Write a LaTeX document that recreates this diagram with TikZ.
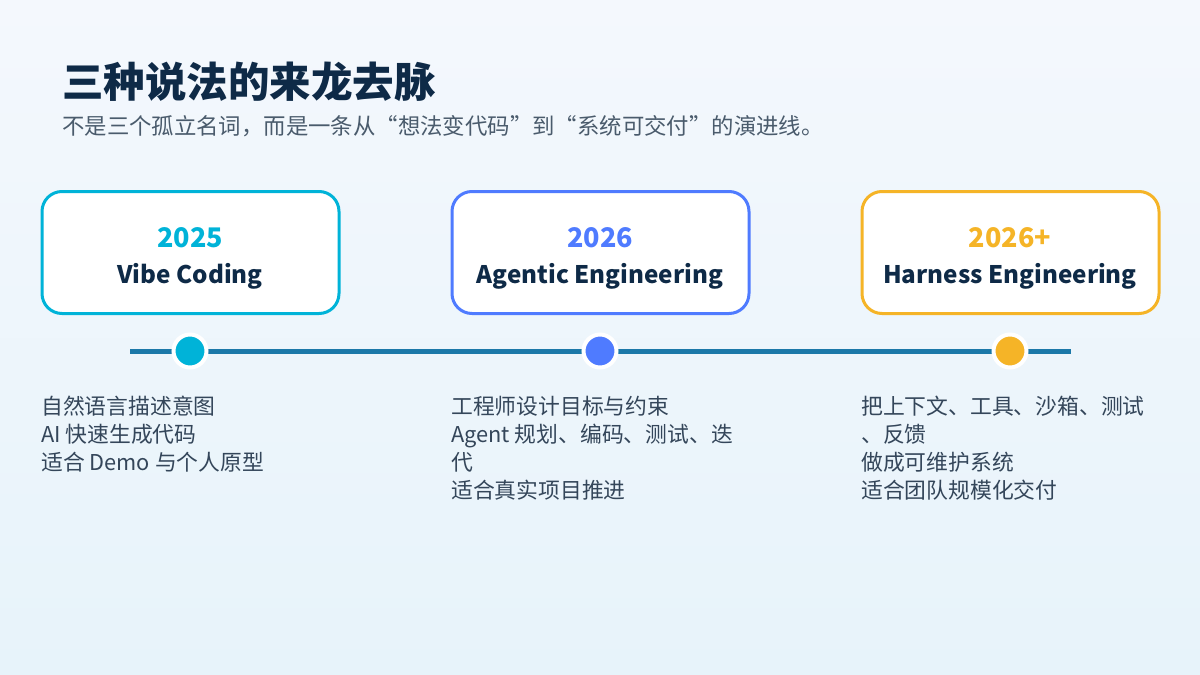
\documentclass[tikz,border=0pt]{standalone}
\usepackage{fontspec}
\setmainfont{Noto Sans CJK SC}
\definecolor{bgtop}{HTML}{F4F8FD}
\definecolor{bgbot}{HTML}{E7F3FA}
\definecolor{navy}{HTML}{0E2A47}
\definecolor{subgray}{HTML}{4A5B6C}
\definecolor{descgray}{HTML}{34465A}
\definecolor{cyanc}{HTML}{00B3D8}
\definecolor{bluec}{HTML}{4F7BFF}
\definecolor{amberc}{HTML}{F5B427}
\definecolor{linec}{HTML}{1B78A8}
\tikzset{
  card/.style={draw=#1, line width=3pt, fill=white, rounded corners=20pt, minimum width=297pt, minimum height=122pt, inner sep=0pt},
  yeartext/.style={text=#1, font=\bfseries\fontsize{27}{32}\selectfont, anchor=base},
  nametext/.style={text=navy, font=\bfseries\fontsize{24.2}{30}\selectfont, anchor=base},
  dot/.style={circle, fill=#1, draw=white, line width=4pt, minimum size=33pt, inner sep=0pt},
  desc/.style={text=descgray, font=\fontsize{21.8}{28}\selectfont, anchor=north west, align=left, inner sep=0pt},
}
\begin{document}
\begin{tikzpicture}[x=1pt,y=-1pt]
\useasboundingbox (0,0) rectangle (1200,675);
\shade[top color=bgtop, bottom color=bgbot] (0,0) rectangle (1200,675);
% title
\node[anchor=base west, inner sep=0pt, text=navy, font=\bfseries\fontsize{41.5}{48}\selectfont] (title) at (62,97) {三种说法的来龙去脉};
\node[anchor=base west, inner sep=0pt, text=subgray, font=\fontsize{22.4}{26}\selectfont] (subtitle) at (62,134) {不是三个孤立名词，而是一条从“想法变代码”到“系统可交付”的演进线。};
% cards
\node[card=cyanc] (c1) at (190.5,252.5) {};
\node[card=bluec] (c2) at (600.5,252.5) {};
\node[card=amberc] (c3) at (1010.5,252.5) {};
\node[yeartext=cyanc] (y1) at (190,247) {2025};
\node[yeartext=bluec] (y2) at (600,247) {2026};
\node[yeartext=amberc] (y3) at (1010,247) {2026+};
\node[nametext] (n1) at (190,283) {Vibe Coding};
\node[nametext] (n2) at (600,283) {Agentic Engineering};
\node[nametext] (n3) at (1010,283) {Harness Engineering};
% timeline
\coordinate (ls) at (130,351);
\coordinate (le) at (1071,351);
\draw[linec, line width=5pt] (ls) -- (le);
\node[dot=cyanc] (d1) at (190,351) {};
\node[dot=bluec] (d2) at (600,351) {};
\node[dot=amberc] (d3) at (1010,351) {};
% descriptions
\node[desc] (t1) at (41,396) {自然语言描述意图\\AI 快速生成代码\\适合 Demo 与个人原型};
\node[desc] (t2) at (451,396) {工程师设计目标与约束\\Agent 规划、编码、测试、迭\\代\\适合真实项目推进};
\node[desc] (t3) at (861,396) {把上下文、工具、沙箱、测试\\、反馈\\做成可维护系统\\适合团队规模化交付};
\end{tikzpicture}
\end{document}
